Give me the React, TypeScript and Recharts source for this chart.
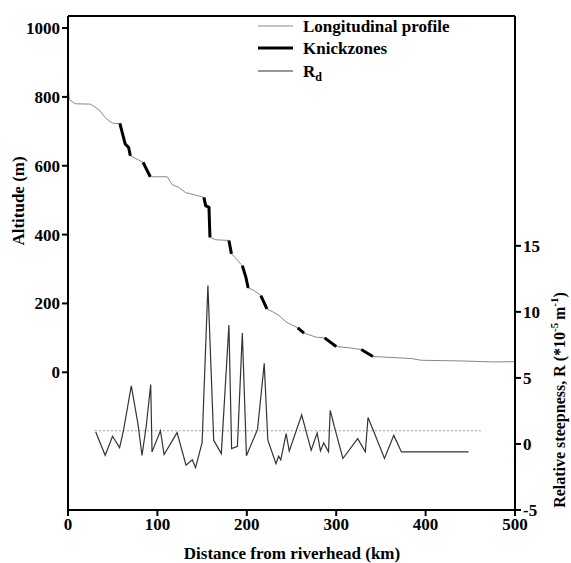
import React from 'react';
import { ComposedChart, Line, XAxis, YAxis, ReferenceLine } from 'recharts';

// longitudinal profile (distance km, altitude m)
const profileKm = [0, 1.5, 8, 25, 30, 36, 41.6, 47, 51, 58, 64, 67.8, 69.7, 75, 84, 92, 111, 116.5, 124, 131.5, 141, 152, 154, 157.7, 158.8, 165, 180, 182.8, 187.6, 193, 195, 199, 201.5, 208, 215.7, 222.5, 229, 236, 244, 257, 264, 277.5, 287, 300, 315, 328, 341, 384, 395, 440, 478, 500];
const profileAlt = [840, 792, 780, 779, 771, 759, 740, 728, 723, 723, 663, 653, 629, 622, 610, 568, 568, 545, 537, 522, 516, 508, 484, 479, 392, 385, 383, 344, 332, 315, 310, 276, 245, 238, 223, 184, 176, 165, 146, 129, 114, 102, 100, 75, 71, 66, 46, 40, 35, 33, 30, 31];

// knickzone stretches (start km, end km)
const knickStart = [58, 84, 152, 180, 195, 215.7, 257, 287, 328];
const knickEnd = [69.7, 92, 158.8, 182.8, 201.5, 222.5, 264, 300, 341];

// relative steepness Rd (*10^-5 m^-1)
const rdKm = [31, 41.6, 49.8, 57.7, 62, 70.8, 78.3, 82.8, 87.6, 92.5, 94, 103.4, 107.5, 122, 132, 139, 142.7, 150, 156.5, 163, 171.5, 180, 183, 189.5, 195, 199.6, 212, 219.5, 223.5, 232.6, 235.6, 238, 244, 247.5, 261.4, 272, 278.7, 282.4, 286, 291.4, 293.3, 298, 307.5, 324, 332.6, 335.6, 343, 354, 364.4, 373, 448];
const rdVal = [0.9, -0.86, 0.58, -0.28, 1.0, 4.4, 1.5, -0.86, 1.4, 4.5, -0.6, 1.0, -0.8, 0.86, -1.6, -1.2, -1.8, 0.1, 12.0, 0.28, -0.73, 9.0, -0.35, -0.18, 8.4, -0.9, 1.1, 6.1, 0.3, -1.5, -0.93, -1.2, 0.78, -0.55, 2.2, -0.48, 0.83, -0.53, 0.08, -0.6, 2.55, 1.3, -1.1, 0.4, -0.6, 2.0, 0.78, -1.1, 0.65, -0.6, -0.6];

const xTicks = [0, 100, 200, 300, 400, 500];
const altTicks = [0, 200, 400, 600, 800, 1000];
const rTicks = [-5, 0, 5, 10, 15];

const profileData = profileKm.map((km, i) => {
  const inKnick = knickStart.some((s, j) => km >= s && km <= knickEnd[j]);
  return { km, alt: profileAlt[i], knick: inKnick ? profileAlt[i] : null };
});
const rdData = rdKm.map((km, i) => ({ km, rd: rdVal[i] }));

const font = '"Liberation Serif", "Times New Roman", serif';
const tickStyle = { fontFamily: font, fontWeight: 700, fontSize: 17, fill: '#000' };
const axisLine = { stroke: '#000', strokeWidth: 2 };

const App = () => {
  return (
    <div style={{ position: 'absolute', left: 0, top: 0, width: 571, height: 563, background: '#fff' }}>
      <ComposedChart width={571} height={563} margin={{ top: 16, right: 0, bottom: 0, left: 0 }}>
        <XAxis
          dataKey="km"
          type="number"
          domain={[0, 500]}
          ticks={xTicks}
          height={53}
          tick={tickStyle}
          axisLine={axisLine}
          tickLine={axisLine}
          allowDuplicatedCategory={false}
        />
        <YAxis
          yAxisId="left"
          type="number"
          domain={[-400, 1035]}
          ticks={altTicks}
          width={68}
          tick={tickStyle}
          axisLine={axisLine}
          tickLine={axisLine}
        />
        <YAxis
          yAxisId="right"
          orientation="right"
          type="number"
          domain={[-5, 32.4]}
          ticks={rTicks}
          width={56}
          tick={tickStyle}
          axisLine={axisLine}
          tickLine={axisLine}
        />
        <ReferenceLine yAxisId="left" y={1035} stroke="#000" strokeWidth={2} />
        <ReferenceLine
          yAxisId="right"
          segment={[{ x: 30, y: 1 }, { x: 462, y: 1 }]}
          stroke="#999"
          strokeDasharray="2 2"
          strokeWidth={1}
        />
        <Line
          yAxisId="left"
          data={profileData}
          dataKey="alt"
          type="linear"
          stroke="#888"
          strokeWidth={1}
          dot={false}
          isAnimationActive={false}
        />
        <Line
          yAxisId="left"
          data={profileData}
          dataKey="knick"
          type="linear"
          stroke="#000"
          strokeWidth={3}
          dot={false}
          connectNulls={false}
          isAnimationActive={false}
        />
        <Line
          yAxisId="right"
          data={rdData}
          dataKey="rd"
          type="linear"
          stroke="#333"
          strokeWidth={1.2}
          dot={false}
          isAnimationActive={false}
        />
      </ComposedChart>

      <svg width={571} height={563} style={{ position: 'absolute', left: 0, top: 0, pointerEvents: 'none' }}>
        <g fontFamily={font} fontWeight={700} fill="#000">
          <line x1={258} y1={26} x2={293} y2={26} stroke="#888" strokeWidth={1} />
          <text x={303} y={32} fontSize={17}>Longitudinal profile</text>
          <line x1={258} y1={48} x2={293} y2={48} stroke="#000" strokeWidth={3} />
          <text x={303} y={54} fontSize={17}>Knickzones</text>
          <line x1={258} y1={71} x2={293} y2={71} stroke="#333" strokeWidth={1.2} />
          <text x={303} y={77} fontSize={17}>
            R<tspan fontSize={12} dy={4}>d</tspan>
          </text>

          <text x={292} y={559} fontSize={17} textAnchor="middle">Distance from riverhead (km)</text>
          <text transform="translate(24,201) rotate(-90)" fontSize={17} textAnchor="middle">Altitude (m)</text>
          <text transform="translate(565,400) rotate(-90)" fontSize={16} textAnchor="middle">
            Relative steepness, R  (*10<tspan fontSize={11} dy={-7}>-5 </tspan>
            <tspan dy={7}>m</tspan>
            <tspan fontSize={11} dy={-7}>-1</tspan>
            <tspan dy={7}>)</tspan>
          </text>
        </g>
      </svg>
    </div>
  );
};

export default App;
